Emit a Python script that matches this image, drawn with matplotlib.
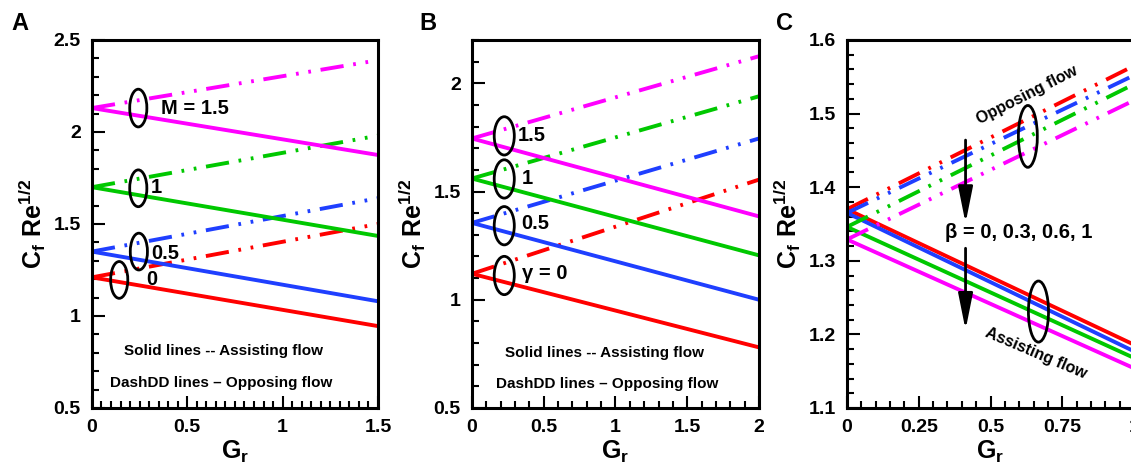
import matplotlib
matplotlib.use('Agg')
import matplotlib.pyplot as plt
from matplotlib.patches import Ellipse
from matplotlib.ticker import MultipleLocator, FuncFormatter

plt.rcParams['font.family'] = ['Liberation Sans', 'DejaVu Sans']
plt.rcParams['font.weight'] = 'bold'
plt.rcParams['mathtext.fontset'] = 'custom'
plt.rcParams['mathtext.rm'] = 'Liberation Sans:bold'
plt.rcParams['mathtext.it'] = 'Liberation Sans:bold'

# ---- data (values at Gr start / end) ----
# panel A : M = 0, 0.5, 1, 1.5
gr_a = [0, 1.5]
a_assist = [[1.21, 0.945], [1.35, 1.08], [1.70, 1.435], [2.13, 1.875]]
a_oppose = [[1.21, 1.50], [1.35, 1.64], [1.70, 1.98], [2.13, 2.39]]

# panel B : gamma = 0, 0.5, 1, 1.5
gr_b = [0, 2]
b_assist = [[1.12, 0.78], [1.355, 1.0], [1.56, 1.205], [1.745, 1.385]]
b_oppose = [[1.12, 1.555], [1.355, 1.745], [1.56, 1.94], [1.745, 2.125]]

# panel C : beta = 0, 0.3, 0.6, 1
gr_c = [0, 1]
c_assist = [[1.370, 1.186], [1.365, 1.177], [1.346, 1.168], [1.329, 1.154]]
c_oppose = [[1.370, 1.565], [1.365, 1.552], [1.346, 1.540], [1.329, 1.518]]

colors = ['#ff0000', '#1f3fff', '#00c800', '#ff00ff']
dashdd = (0, (6.0, 2.5, 0.7, 2.5, 0.7, 2.5))   # dash - dot - dot
lw = 2.8

fig = plt.figure(figsize=(11.31, 4.66), dpi=100)
axA = fig.add_axes([0.0813, 0.1245, 0.2529, 0.7897])
axB = fig.add_axes([0.4173, 0.1245, 0.2538, 0.7897])
axC = fig.add_axes([0.7489, 0.1245, 0.2538, 0.7897])

fmt = FuncFormatter(lambda v, p: '%g' % round(v, 3))


def style(ax, xlim, ylim, xmaj, xmin, ymaj, ymin):
    ax.set_xlim(xlim)
    ax.set_ylim(ylim)
    ax.xaxis.set_major_locator(MultipleLocator(xmaj))
    ax.xaxis.set_minor_locator(MultipleLocator(xmin))
    ax.yaxis.set_major_locator(MultipleLocator(ymaj))
    ax.yaxis.set_minor_locator(MultipleLocator(ymin))
    ax.xaxis.set_major_formatter(fmt)
    ax.yaxis.set_major_formatter(fmt)
    ax.tick_params(which='both', direction='in', top=False, right=False,
                   width=1.5, labelsize=14, pad=8)
    ax.tick_params(which='major', length=9)
    ax.tick_params(which='minor', length=5)
    for s in ax.spines.values():
        s.set_linewidth(2.2)
    ax.set_xlabel('$\\mathrm{G_r}$', fontsize=18, labelpad=2)
    ax.set_ylabel('$\\mathrm{C_f\\ Re^{1/2}}$', fontsize=18, labelpad=4)


def draw(ax, gr, assist, oppose):
    for i in range(4):
        ax.plot(gr, oppose[i], color=colors[i], lw=lw, linestyle=dashdd)
        ax.plot(gr, assist[i], color=colors[i], lw=lw)


def oval(ax, x, y, w, h):
    ax.add_patch(Ellipse((x, y), w, h, fill=False, edgecolor='k', lw=2, zorder=5))


# ---- A ----
draw(axA, gr_a, a_assist, a_oppose)
style(axA, (0, 1.5), (0.5, 2.5), 0.5, 0.05, 0.5, 0.1)
oval(axA, 0.243, 2.13, 0.09, 0.205)
oval(axA, 0.243, 1.694, 0.09, 0.2)
oval(axA, 0.246, 1.35, 0.09, 0.2)
oval(axA, 0.143, 1.196, 0.09, 0.2)
axA.text(0.36, 2.13, 'M = 1.5', fontsize=14.5, va='center')
axA.text(0.31, 1.696, '1', fontsize=14.5, va='center')
axA.text(0.31, 1.34, '0.5', fontsize=14.5, va='center')
axA.text(0.283, 1.196, '0', fontsize=14.5, va='center')
axA.text(0.69, 0.81, 'Solid lines -- Assisting flow', fontsize=11, ha='center', va='center')
axA.text(0.68, 0.634, 'DashDD lines \u2013 Opposing flow', fontsize=11, ha='center', va='center')

# ---- B ----
draw(axB, gr_b, b_assist, b_oppose)
style(axB, (0, 2), (0.5, 2.2), 0.5, 0.1, 0.5, 0.1)
for yc in [1.757, 1.558, 1.342, 1.112]:
    oval(axB, 0.225, yc, 0.14, 0.177)
axB.text(0.318, 1.757, '1.5', fontsize=14.5, va='center')
axB.text(0.35, 1.558, '1', fontsize=14.5, va='center')
axB.text(0.34, 1.35, '0.5', fontsize=14.5, va='center')
axB.text(0.35, 1.12, '\u03b3 = 0', fontsize=14.5, va='center')
axB.text(0.92, 0.756, 'Solid lines -- Assisting flow', fontsize=11, ha='center', va='center')
axB.text(0.94, 0.61, 'DashDD lines \u2013 Opposing flow', fontsize=11, ha='center', va='center')

# ---- C ----
draw(axC, gr_c, c_assist, c_oppose)
style(axC, (0, 1), (1.1, 1.6), 0.25, 0.05, 0.1, 0.02)
oval(axC, 0.63, 1.469, 0.066, 0.084)
oval(axC, 0.667, 1.231, 0.07, 0.083)
axC.text(0.626, 1.525, 'Opposing flow', fontsize=11.5, rotation=27, ha='center', va='center')
axC.text(0.66, 1.174, 'Assisting flow', fontsize=11.5, rotation=-23, ha='center', va='center')
axC.text(0.341, 1.338, '\u03b2 = 0, 0.3, 0.6, 1', fontsize=14.5, va='center')
arr = dict(arrowstyle='-|>,head_length=1.1,head_width=0.22', color='k', lw=2, mutation_scale=20,
           shrinkA=0, shrinkB=0)
axC.annotate('', xy=(0.413, 1.351), xytext=(0.413, 1.464), arrowprops=arr)
axC.annotate('', xy=(0.413, 1.206), xytext=(0.413, 1.317), arrowprops=arr)

fig.text(0.0177, 0.9506, 'A', fontsize=17, ha='center', va='center')
fig.text(0.3784, 0.9506, 'B', fontsize=17, ha='center', va='center')
fig.text(0.6932, 0.9506, 'C', fontsize=17, ha='center', va='center')

fig.savefig('out.png', dpi=100)
